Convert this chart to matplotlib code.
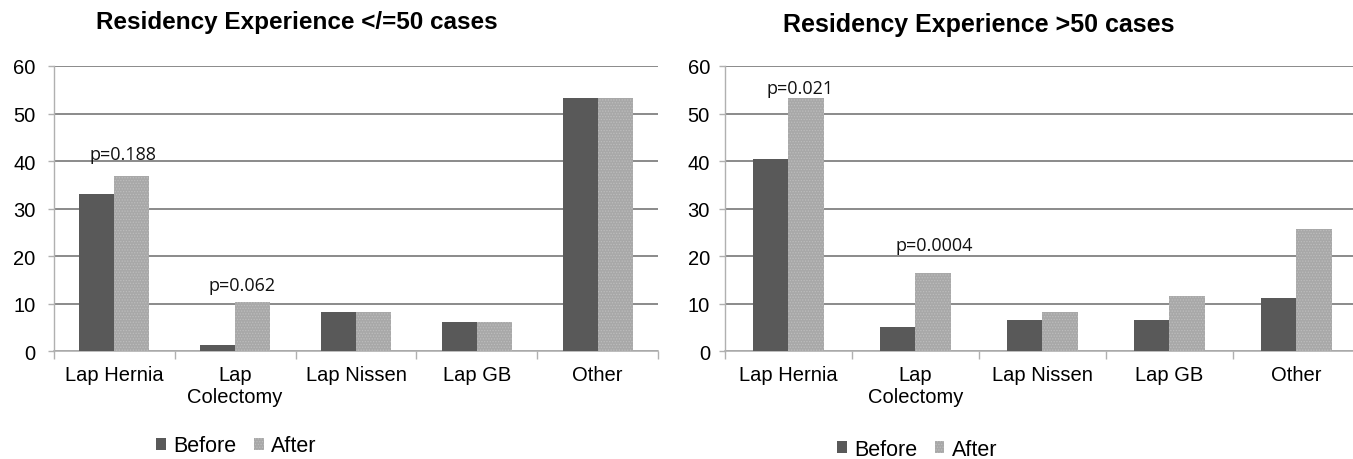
import numpy as np
import matplotlib
matplotlib.use("Agg")
import matplotlib.pyplot as plt
from matplotlib.patches import Patch

plt.rcParams['font.family'] = ['Liberation Sans', 'DejaVu Sans']
plt.rcParams['hatch.linewidth'] = 0.6

# data
categories = ["Lap Hernia", "Lap\nColectomy", "Lap Nissen", "Lap GB", "Other"]
series_names = ["Before", "After"]

low_before = [33.2, 1.3, 8.4, 6.2, 53.3]
low_after = [36.9, 10.5, 8.2, 6.2, 53.3]
low_pvals = ["p=0.188", "p=0.062"]
low_pval_y = [40.5, 12.9]

high_before = [40.4, 5.2, 6.6, 6.6, 11.3]
high_after = [53.2, 16.6, 8.4, 11.6, 25.7]
high_pvals = ["p=0.021", "p=0.0004"]
high_pval_y = [54.3, 21.4]

titles = ["Residency Experience </=50 cases", "Residency Experience >50 cases"]

before_color = '#595959'
after_color = '#a8a8a8'
grid_color = '#8a8a8a'
axis_color = '#b0b0b0'

fig = plt.figure(figsize=(13.53, 4.6), dpi=100)
ax1 = fig.add_axes([0.0399, 0.2337, 0.4464, 0.6207])
ax2 = fig.add_axes([0.5358, 0.2337, 0.4693, 0.6207])


def draw_panel(ax, before, after, pvals, pval_y, width, ypad, pval_dx):
    x = np.arange(len(categories))
    ax.bar(x - width / 2, before, width, color=before_color, linewidth=0, zorder=3)
    ax.bar(x + width / 2, after, width, color=after_color, edgecolor='#bdbdbd',
           hatch='......', linewidth=0, zorder=3)

    for i, (txt, yv) in enumerate(zip(pvals, pval_y)):
        ax.text(i + pval_dx[i], yv, txt, ha='center', va='baseline',
                fontsize=13, family=['Open Sans', 'DejaVu Sans'], color='#111111', zorder=4)

    ax.set_xlim(-0.5, len(categories) - 0.5)
    ax.set_ylim(0, 60)
    ax.set_yticks(np.arange(0, 61, 10))
    ax.yaxis.grid(True, color=grid_color, linewidth=1.4, zorder=0)
    ax.set_axisbelow(True)

    # boundary ticks below the axis, labels in the middle of each category
    ax.set_xticks(np.arange(-0.5, len(categories), 1))
    ax.set_xticklabels([])
    ax.set_xticks(x, minor=True)
    ax.set_xticklabels(categories, minor=True, fontsize=14.5, linespacing=1.15)
    ax.tick_params(axis='x', which='major', length=5.8, width=1, color=axis_color)
    ax.tick_params(axis='x', which='minor', length=0, pad=10)
    ax.tick_params(axis='y', length=4.3, width=1, color=axis_color, labelsize=14.5, pad=ypad)

    for side in ['top', 'right']:
        ax.spines[side].set_visible(False)
    ax.spines['left'].set_color(axis_color)
    ax.spines['left'].set_linewidth(1)
    ax.spines['bottom'].set_color(axis_color)
    ax.spines['bottom'].set_linewidth(1.2)


draw_panel(ax1, low_before, low_after, low_pvals, low_pval_y, 0.29, 9.0, [0.07, 0.06])
draw_panel(ax2, high_before, high_after, high_pvals, high_pval_y, 0.28, 6.5, [0.09, 0.15])

fig.text(0.2195, 0.95, titles[0], ha='center', va='center', fontsize=17.5, fontweight='bold')
fig.text(0.7236, 0.946, titles[1], ha='center', va='center', fontsize=18, fontweight='bold')

handles = [Patch(facecolor=before_color, linewidth=0),
           Patch(facecolor=after_color, edgecolor='#bdbdbd', hatch='......', linewidth=0)]
for cx, cy in [(0.1748, 0.0283), (0.678, 0.0217)]:
    fig.legend(handles, series_names, loc='center', bbox_to_anchor=(cx, cy), ncol=2,
               frameon=False, fontsize=15.5, handlelength=0.45, handleheight=0.45,
               handletextpad=0.35, columnspacing=0.8, borderpad=0, borderaxespad=0)

fig.savefig("out.png", dpi=100)
